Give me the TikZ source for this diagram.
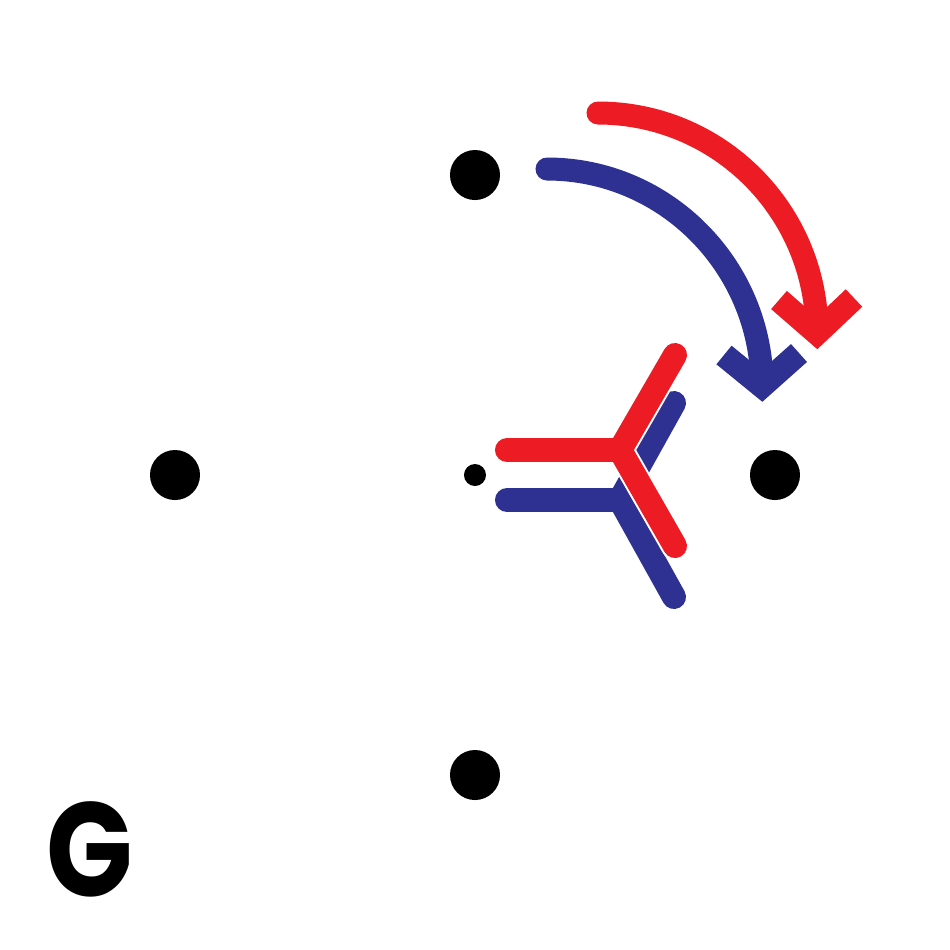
\documentclass[tikz,border=0pt]{standalone}
\usepackage{fontspec}
\newfontfamily\gfont{Poppins}
\definecolor{cred}{HTML}{ED1C24}
\definecolor{cblue}{HTML}{2E3192}
\begin{document}
\begin{tikzpicture}[x=0.01cm,y=-0.01cm,
  dot/.style={circle,fill=black,draw=none,inner sep=0pt,minimum size=#1},
  shaft/.style={line width=0.23cm,line cap=round},
  head/.style={line width=0.24cm,line cap=butt,line join=miter},
  yarm/.style={line width=0.24cm,line cap=round,line join=round}]
\useasboundingbox[fill=white] (0,0) rectangle (950,950);
% dots
\node[dot=0.5cm] (top) at (475,175) {};
\node[dot=0.5cm] (left) at (175,475) {};
\node[dot=0.5cm] (right) at (775,475) {};
\node[dot=0.5cm] (bottom) at (475,775) {};
\node[dot=0.22cm] (center) at (475,475) {};
% curved arrows
\draw[shaft,cred] (598,113) .. controls (719,113) and (817,211) .. (817,333);
\draw[head,cred] (779,300) -- (817,333) -- (854,298);
\draw[shaft,cblue] (547,169) .. controls (666,169) and (762,267) .. (762,386);
\draw[head,cblue] (724,355) -- (762,386) -- (799,353);
% Y shapes
\draw[yarm,cblue] (507,500) -- (620,500);
\draw[yarm,cblue] (674,403) -- (620,500) -- (674,597);
\draw[yarm,white,line width=0.28cm] (675,355) -- (620,450) -- (675,546);
\draw[yarm,cred] (507,450) -- (620,450);
\draw[yarm,cred] (675,355) -- (620,450) -- (675,546);
% label
\node[font=\gfont\bfseries\fontsize{38}{38}\selectfont,inner sep=0pt] (g) at (90,849) {\scalebox{0.85}[1]{G}};
\end{tikzpicture}
\end{document}
